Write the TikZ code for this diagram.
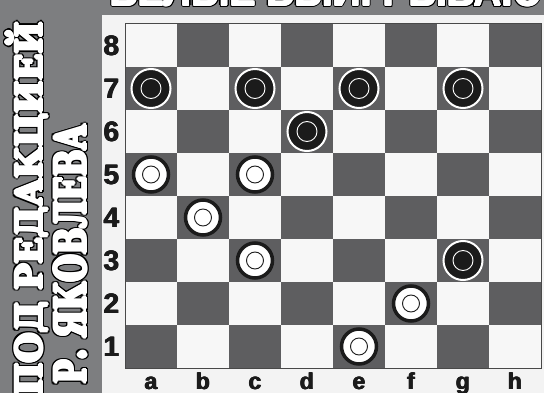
\documentclass[tikz,border=0pt]{standalone}
\usepackage{fontspec}
\setmainfont{Liberation Sans}
\newfontfamily\slab{DejaVu Serif}
\definecolor{stripgray}{HTML}{7D7E80}
\definecolor{paper}{HTML}{F3F3F3}
\definecolor{darksq}{HTML}{5E5E60}
\definecolor{lightsq}{HTML}{F7F7F7}
\definecolor{pieceblack}{HTML}{1B1B1B}
\tikzset{
  bpiece/.style={circle, fill=pieceblack, draw=white, line width=2pt, minimum size=39pt, inner sep=0pt},
  wpiece/.style={circle, fill=white, draw=pieceblack, line width=3.5pt, minimum size=35pt, inner sep=0pt},
  binner/.style={draw=white, line width=0.9pt},
  winner/.style={draw=pieceblack, line width=0.9pt},
  rowlab/.style={anchor=base, inner sep=0pt, font=\fontsize{28}{28}\selectfont\bfseries, text=pieceblack},
  collab/.style={anchor=base, inner sep=0pt, font=\fontsize{23}{23}\selectfont\bfseries, text=pieceblack},
  vtext/.style={rotate=90, anchor=base west, inner sep=0pt, font=\slab\bfseries},
  toptext/.style={anchor=base west, inner sep=0pt, font=\fontsize{39}{39}\selectfont\bfseries},
}
\newcommand\lineone{\resizebox{374pt}{36pt}{ПОД РЕДАКЦИЕЙ}}
\newcommand\linetwo{\resizebox{259pt}{32pt}{Р. ЯКОВЛЕВА}}
\begin{document}
\begin{tikzpicture}[x=1pt,y=-1pt]
\useasboundingbox (0,0) rectangle (544,393);
\clip (0,0) rectangle (544,393);
\fill[stripgray] (0,0) rectangle (544,393);
\fill[paper] (102,15) rectangle (544,393);
% board squares
\foreach \i in {0,...,7}{
  \foreach \r in {1,...,8}{
    \pgfmathparse{mod(\i+\r,2)==1 ? "darksq" : "lightsq"}
    \edef\sqcol{\pgfmathresult}
    \fill[\sqcol] ({125+52*\i},{24+43*(8-\r)}) rectangle +(52,43);
  }
}
\draw[line width=1pt, pieceblack!80] (125,24) rectangle (541,368);
% labels (with slight emboldening)
\foreach \dx/\dy [count=\k] in {-0.5/0,0.5/0,0/-0.4,0/0.4}{
  \foreach \r in {1,...,8}{
    \node[rowlab] (row\r b\k) at ({111.5+\dx},{55.5+43*(8-\r)+\dy}) {\r};
  }
  \foreach \c [count=\i from 0] in {a,b,c,d,e,f,g,h}{
    \node[collab] (col\c b\k) at ({151+52*\i+\dx},{389.5+\dy}) {\c};
  }
}
% black pieces
\foreach \n/\i/\r in {a7/0/7, c7/2/7, e7/4/7, g7/6/7, d6/3/6, g3/6/3}{
  \node[bpiece] (\n) at ({151+52*\i},{45.5+43*(8-\r)}) {};
  \draw[binner] (\n) circle (10);
}
% white pieces
\foreach \n/\i/\r in {a5/0/5, c5/2/5, b4/1/4, c3/2/3, f2/5/2, e1/4/1}{
  \node[wpiece] (\n) at ({151+52*\i},{45.5+43*(8-\r)}) {};
  \draw[winner] (\n) circle (8.5);
}
% outlined texts: black outline copies
\foreach \a [count=\k] in {0,30,...,330}{
  \node[vtext, text=black] (l1o\k) at ({42+2.6*cos(\a)},{396+2.6*sin(\a)}) {\lineone};
  \node[vtext, text=black] (l2o\k) at ({86+2.6*cos(\a)},{384+2.6*sin(\a)}) {\linetwo};
  \node[toptext, text=black] (tto\k) at ({110+1.8*cos(\a)},{6+1.8*sin(\a)}) {БЕЛЫЕ ВЫИГРЫВАЮТ};
}
% white fill copies (emboldened)
\foreach \a [count=\k] in {0,45,...,315}{
  \node[vtext, text=white] (l1w\k) at ({42+1.4*cos(\a)},{396+1.4*sin(\a)}) {\lineone};
  \node[vtext, text=white] (l2w\k) at ({86+1.4*cos(\a)},{384+1.4*sin(\a)}) {\linetwo};
  \node[toptext, text=white] (ttw\k) at ({110+0.5*cos(\a)},{6+0.5*sin(\a)}) {БЕЛЫЕ ВЫИГРЫВАЮТ};
}
\node[vtext, text=white] (line1) at (42,396) {\lineone};
\node[vtext, text=white] (line2) at (86,384) {\linetwo};
\node[toptext, text=white] (title) at (110,6) {БЕЛЫЕ ВЫИГРЫВАЮТ};
\end{tikzpicture}
\end{document}
